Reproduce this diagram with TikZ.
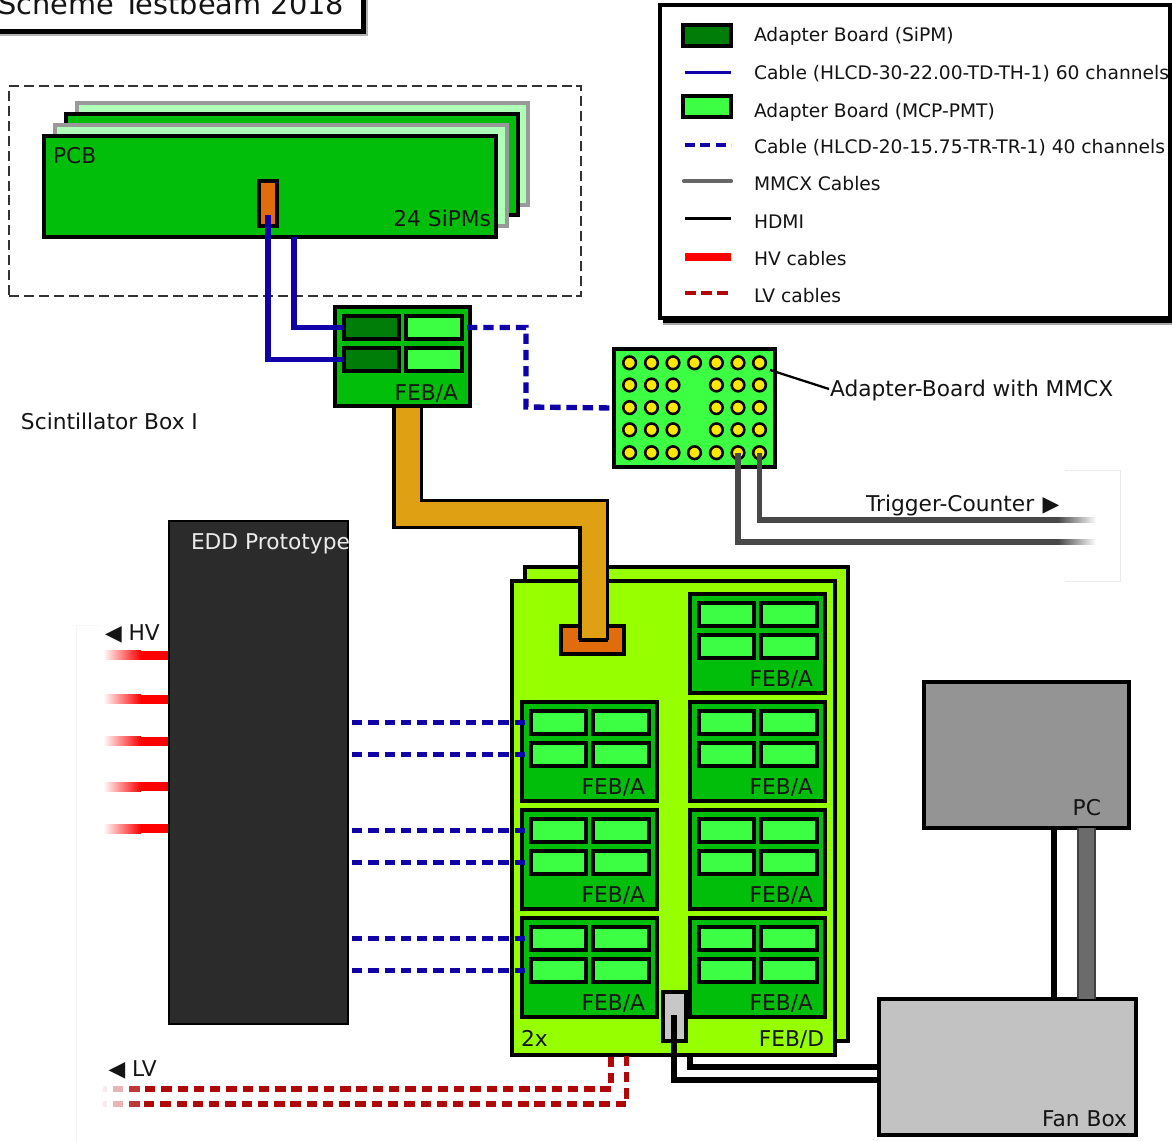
\documentclass[tikz,border=0pt]{standalone}
\usepackage{fontspec}
\setmainfont{DejaVu Sans}
\definecolor{pcbgreen}{RGB}{0,190,10}
\definecolor{palegreen}{RGB}{176,255,184}
\definecolor{darkgreen}{RGB}{0,125,8}
\definecolor{lightgreen}{RGB}{60,255,68}
\definecolor{limegreen}{RGB}{150,255,0}
\definecolor{orangeconn}{RGB}{224,108,12}
\definecolor{flexgold}{RGB}{224,160,20}
\definecolor{cableblue}{RGB}{16,0,168}
\definecolor{lvred}{RGB}{176,8,8}
\definecolor{mmcxgray}{RGB}{72,72,72}
\definecolor{ink}{RGB}{20,20,20}
\tikzset{
 x=0.75pt,y=-0.75pt,
 bx/.style={draw=black,line width=2.3pt,inner sep=0pt,outer sep=0pt,anchor=north west},
 pcbbox/.style={bx,fill=pcbgreen},
 palebox/.style={bx,fill=palegreen,draw=black!40},
 adsipm/.style={bx,fill=darkgreen},
 admcp/.style={bx,fill=lightgreen},
 febd/.style={bx,fill=limegreen},
 lbl/.style={inner sep=0pt,outer sep=0pt,font=\fontsize{16.3pt}{16.3pt}\selectfont,text=ink},
 lblr/.style={lbl,anchor=base east},
 lbll/.style={lbl,anchor=base west},
 leg/.style={inner sep=0pt,outer sep=0pt,anchor=base west,font=\fontsize{14pt}{14pt}\selectfont,text=ink},
 cablesolid/.style={draw=cableblue,line width=3.9pt},
 cabledash/.style={draw=cableblue,line width=4pt,dash pattern=on 7.8pt off 4.4pt},
 mmcx/.style={draw=mmcxgray,line width=4pt},
 hdmi/.style={draw=black,line width=4.8pt},
 lvcable/.style={draw=lvred,line width=4pt,dash pattern=on 7.8pt off 4.4pt},
 flex/.style={draw=black,line width=2.3pt,double=flexgold,double distance=18pt},
 coax/.style={draw=black!75,line width=1.2pt,double=black!58,double distance=11.5pt},
 pin/.style={circle,draw=black,fill=yellow!90!orange,line width=1.9pt,minimum size=9.5pt,inner sep=0pt,outer sep=0pt},
 faint/.style={draw=black!8,line width=0.6pt},
 fainter/.style={draw=black!3,line width=0.6pt},
}
\newcommand{\bnode}[6]{\node[#1,minimum width={((#5)-(#3))*0.75pt},minimum height={((#6)-(#4))*0.75pt}] (#2) at (#3,#4) {};}
\newcommand{\feb}[3]{%
 \bnode{pcbbox}{#1}{#2}{#3}{#2+135}{#3+99}
 \bnode{admcp}{#1a}{#2+9}{#3+9}{#2+64}{#3+32}
 \bnode{admcp}{#1b}{#2+71}{#3+9}{#2+127}{#3+32}
 \bnode{admcp}{#1c}{#2+9}{#3+41}{#2+64}{#3+64}
 \bnode{admcp}{#1d}{#2+71}{#3+41}{#2+127}{#3+64}
 \node[lblr] (#1t) at (#2+123,#3+92) {FEB/A};}
\begin{document}
\begin{tikzpicture}
\useasboundingbox (0,0) rectangle (1172,1141);
\clip (0,0) rectangle (1172,1141);
% faint outlines
\draw[faint] (1065,470) -- (1120,470) -- (1120,581) -- (1065,581);
\draw[fainter] (100,625) -- (76,625) -- (76,1141);
% title
\fill[black!30] (0,0) rectangle (368,36);
\fill[black] (0,0) rectangle (366,34);
\node[bx,fill=white,minimum width=370*0.75pt,minimum height=38*0.75pt] (titlebox) at (-7,-7) {};
\node[inner sep=0pt,anchor=base west,font=\fontsize{21.6pt}{21.6pt}\selectfont,text=ink] (title) at (-2,15) {Scheme Testbeam 2018};
% scintillator box
\bnode{draw=black!80,line width=1.9pt,dash pattern=on 7.5pt off 3.7pt,inner sep=0pt,outer sep=0pt,anchor=north west}{sbox}{9}{86}{581}{296}
\bnode{palebox}{pcbd}{77}{103}{528}{205}
\bnode{pcbbox}{pcbc}{66}{114}{518}{215}
\bnode{palebox}{pcbb}{55}{125}{507}{226}
\bnode{pcbbox}{pcba}{44}{136}{496}{237}
\bnode{bx,fill=orangeconn}{conn}{259}{181}{277}{226}
\node[lbll] (pcbt) at (53,164) {PCB};
\node[lblr] (sipm) at (491,227) {24 SiPMs};
% big boards
\bnode{febd}{febdb}{525}{567}{848}{1041}
\bnode{febd}{febdf}{512}{581}{835}{1055}
\node[lbll] (twox) at (521,1046) {2x};
\node[lblr] (febdt) at (824,1046) {FEB/D};
\bnode{bx,fill=orangeconn}{flexconn}{561}{626}{624}{654}
% flex
\coordinate (fa) at (407.5,400);
\coordinate (fb) at (593.5,640);
\coordinate (fl) at (580,640);
\coordinate (fr) at (607,640);
\draw[flex] (fa) |- (514,514) -| (fb);
\draw[black,line width=2.3pt] ([xshift=-1pt]fl) -- ([xshift=1pt]fr);
% FEB/A top
\bnode{pcbbox}{feb}{335}{307}{470}{406}
\bnode{adsipm}{fa1}{344}{316}{399}{339}
\bnode{admcp}{fb1}{406}{316}{462}{339}
\bnode{adsipm}{fa2}{344}{348}{399}{371}
\bnode{admcp}{fb2}{406}{348}{462}{371}
\node[lblr] (febt) at (458,401) {FEB/A};
% six and one FEB
\feb{ra}{690}{594}
\feb{rb}{690}{702}
\feb{rc}{690}{810}
\feb{rd}{690}{918}
\feb{lb}{522}{702}
\feb{lc}{522}{810}
\feb{ld}{522}{918}
% cables from pcb
\coordinate (c1) at (268,215);
\coordinate (c2) at (294,237);
\draw[cablesolid] (c1) |- (fa2.west);
\draw[cablesolid] (c2) |- (fa1.west);
% adapter board
\bnode{bx,fill=lightgreen}{adb}{614}{349}{775}{467}
\foreach \i/\cx in {1/629.6,2/651.5,3/673,4/694.5,5/716.4,6/738,7/759.5}{
 \foreach \j/\cy in {1/362.8,2/385,3/407.6,4/429.8,5/452.7}{
  \ifnum\i=4 \ifnum\j>1 \ifnum\j<5 \else \node[pin] (p\i\j) at (\cx,\cy) {}; \fi \else \node[pin] (p\i\j) at (\cx,\cy) {}; \fi
  \else \node[pin] (p\i\j) at (\cx,\cy) {}; \fi
 }}
\draw[cabledash] (fb1.east) ++(5,0) coordinate (d0) -- (526,327.5) -- (526,407) -- (adb.west);
\coordinate (lead) at (829,389);
\draw[black,line width=1.7pt] (770,370) -- (lead);
\node[lbll] (adbt) at (830,397) {Adapter-Board with MMCX};
% mmcx
\coordinate (tc1) at (1060,520);
\coordinate (tc2) at (1060,542);
\draw[mmcx] (p75.center) |- (tc1);
\draw[mmcx] (p65.center) |- (tc2);
\shade[left color=mmcxgray,right color=white] (1058,517.3) rectangle (1096,522.7);
\shade[left color=mmcxgray,right color=white] (1058,539.3) rectangle (1096,544.7);
\node[lbll] (trig) at (866,511) {Trigger-Counter\hspace{0.38em}▶};
% EDD
\bnode{draw=black,line width=1.5pt,fill=black!83,inner sep=0pt,outer sep=0pt,anchor=north west}{edd}{169}{521}{348}{1024}
\node[lbll,text=white!92!black] (eddt) at (191,549) {EDD Prototype};
% HV
\foreach \yy in {655,699,741,786.5,828.5}{
 \fill[red] (140,\yy-4.5) rectangle (168,\yy+4.5);
 \shade[left color=white,right color=red] (103,\yy-4.5) rectangle (141,\yy+4.5);
}
\node[lbll] (hv) at (105,640) {◀ HV};
% blue
\foreach \ab in {lba,lbc,lca,lcc,lda,ldc}{
 \draw[cabledash,shorten <=3pt,shorten >=3pt] (edd.east |- \ab.west) -- (\ab.west);
}
% LV
\node[lbll] (lv) at (108.5,1076) {◀ LV};
\coordinate (lv1) at (145,1089);
\coordinate (lv2) at (144,1104);
\draw[lvcable] (lv1) -| (611,1056);
\draw[lvcable] (lv2) -| (626.5,1056);
\foreach \yy in {1089,1104}{
 \draw[line width=4pt,lvred!8] (103,\yy) -- (107,\yy);
 \draw[line width=4pt,lvred!30] (113,\yy) -- (123,\yy);
 \draw[line width=4pt,lvred!80] (129,\yy) -- (140,\yy);
}
% PC, Fan
\bnode{bx,fill=black!42}{pc}{924}{682}{1129}{828}
\bnode{bx,fill=black!24}{fan}{879}{999}{1136}{1135}
\node[lblr] (pct) at (1101,815) {PC};
\node[lblr] (fant) at (1127,1126) {Fan Box};
\coordinate (pc1) at (1053.7,828);
\coordinate (pc2) at (1086.5,828);
\draw[hdmi] (pc1) -- (pc1 |- fan.north);
\draw[coax] (pc2) -- (pc2 |- fan.north);
% gray connector & hdmi
\bnode{bx,fill=black!22}{gconn}{663}{992}{686}{1041}
\coordinate (h1) at (674,1015);
\coordinate (h2) at (690,1056);
\draw[hdmi] (h1) |- (fan.west |- 0,1080);
\draw[hdmi] (h2) |- (fan.west |- 0,1067);
% legend
\fill[black!35] (663,12) rectangle (1172,325);
\fill[black] (663,12) rectangle (1172,323);
\bnode{bx,fill=white}{legend}{660}{5}{1170}{318}
\bnode{adsipm}{la}{683}{25}{731}{46}
\bnode{admcp}{lb}{683}{96}{731}{117}
\coordinate (l2a) at (685,72.5);\coordinate (l2b) at (731,72.5);
\coordinate (l4a) at (685,145);\coordinate (l4b) at (731,145);
\coordinate (l5a) at (684,181);\coordinate (l5b) at (731,181);
\coordinate (l6a) at (685,218.5);\coordinate (l6b) at (731,218.5);
\coordinate (l7a) at (685,257);\coordinate (l7b) at (731,257);
\coordinate (l8a) at (685,293);\coordinate (l8b) at (731,293);
\draw[cableblue,line width=2.9pt] (l2a) -- (l2b);
\draw[cableblue,line width=2.9pt,dash pattern=on 7.5pt off 4pt] (l4a) -- (l4b);
\draw[black!60,line width=3.2pt,line cap=round] (l5a) -- (l5b);
\draw[black,line width=2.9pt] (l6a) -- (l6b);
\draw[red,line width=5.6pt] (l7a) -- (l7b);
\draw[lvred,line width=3.6pt,dash pattern=on 8pt off 4pt] (l8a) -- (l8b);
\node[leg] (t1) at (754,42) {Adapter Board (SiPM)};
\node[leg] (t2) at (754,80) {Cable (HLCD-30-22.00-TD-TH-1) 60 channels};
\node[leg] (t3) at (754,118) {Adapter Board (MCP-PMT)};
\node[leg] (t4) at (754,154) {Cable (HLCD-20-15.75-TR-TR-1) 40 channels};
\node[leg] (t5) at (754,191) {MMCX Cables};
\node[leg] (t6) at (754,229) {HDMI};
\node[leg] (t7) at (754,266) {HV cables};
\node[leg] (t8) at (754,303) {LV cables};
\node[lbll] (scint) at (21,430) {Scintillator Box I};
\end{tikzpicture}
\end{document}
